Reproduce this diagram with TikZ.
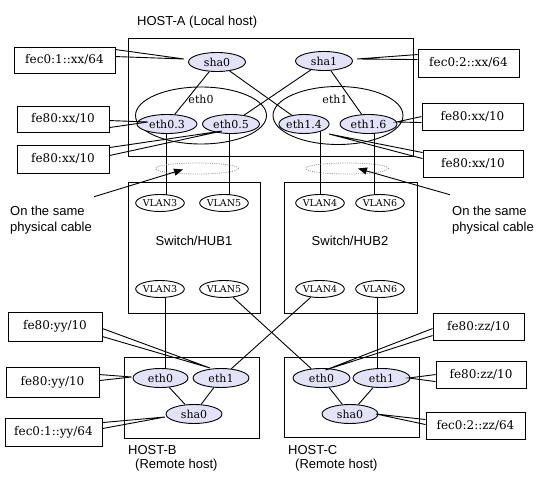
\documentclass[tikz,border=0pt]{standalone}
\usepackage{fontspec}
\newfontfamily\serf{DejaVu Serif}
\newfontfamily\sanf{Liberation Sans}
\usetikzlibrary{shapes.geometric,arrows.meta,calc}
\definecolor{lav}{RGB}{226,226,248}
\definecolor{dotgray}{RGB}{150,150,170}
\pgfdeclarelayer{bg}
\pgfsetlayers{bg,main}
\begin{document}
\begin{tikzpicture}[x=1pt,y=-1pt,
  wire/.style={draw,black,line width=0.9pt},
  iface/.style={ellipse,draw,line width=0.9pt,fill=lav,inner sep=0pt,minimum height=19pt,minimum width=57pt,font=\serf\fontsize{11}{13}\selectfont},
  vlan/.style={ellipse,draw,line width=0.9pt,fill=white,inner sep=0pt,minimum height=17pt,minimum width=46pt,font=\serf\fontsize{9.5}{11}\selectfont},
  grp/.style={ellipse,draw,line width=0.9pt,inner sep=0pt},
  frame/.style={draw,line width=0.9pt,inner sep=0pt},
  addr/.style={draw,line width=0.9pt,fill=white,inner sep=0pt,font=\serf\fontsize{12}{14}\selectfont},
  captxt/.style={font=\sanf\fontsize{13}{16}\selectfont,inner sep=0pt,align=left},
  ghost/.style={ellipse,draw=dotgray,line width=0.8pt,dash pattern=on 1pt off 1.2pt,inner sep=0pt,minimum width=83pt,minimum height=11pt},
  pointer/.style={wire,-{Triangle[length=9pt,width=7pt]}}
]
\useasboundingbox (0,0) rectangle (547,486);

% frames
\node[frame,minimum width=285pt,minimum height=118pt] (hosta) at (270.5,97) {};
\node[frame,minimum width=132pt,minimum height=131pt] (sw1) at (194,247.5) {};
\node[frame,minimum width=133pt,minimum height=131pt] (sw2) at (350.5,247.5) {};
\node[frame,minimum width=135pt,minimum height=81pt] (hostb) at (191.5,397.5) {};
\node[frame,minimum width=135pt,minimum height=80pt] (hostc) at (351.5,397) {};

% frame labels
\node[captxt,anchor=west] (hostalbl) at (137,22) {HOST-A (Local host)};
\node[captxt] (sw1lbl) at (194,241) {Switch/HUB1};
\node[captxt] (sw2lbl) at (350,241) {Switch/HUB2};
\node[captxt,anchor=west] (hostblbl) at (128,450) {HOST-B};
\node[captxt,anchor=west] (hostbsub) at (135,465) {(Remote host)};
\node[captxt,anchor=west] (hostclbl) at (288,450) {HOST-C};
\node[captxt,anchor=west] (hostcsub) at (295,465) {(Remote host)};

% HOST-A groups
\node[grp,minimum width=131pt,minimum height=57pt] (eth0grp) at (201,115.5) {};
\node[grp,minimum width=130pt,minimum height=58pt] (eth1grp) at (338,115.5) {};
\node[inner sep=0pt,font=\serf\fontsize{11}{13}\selectfont] (eth0lbl) at (201,99) {eth0};
\node[inner sep=0pt,font=\serf\fontsize{11}{13}\selectfont] (eth1lbl) at (335,99) {eth1};

% HOST-A interfaces
\node[iface] (sha0a) at (217,62) {sha0};
\node[iface] (sha1) at (324,61) {sha1};
\node[iface,minimum width=60pt] (eth03) at (167,124) {eth0.3};
\node[iface] (eth05) at (231,124) {eth0.5};
\node[iface,minimum width=50pt] (eth14) at (304,124) {eth1.4};
\node[iface] (eth16) at (368.5,124) {eth1.6};

% cables
\node[ghost] (g1) at (197,168.5) {};
\node[ghost] (g2) at (347,168.5) {};

% switches
\node[vlan,minimum width=40pt] (vlan3a) at (160,203) {VLAN3};
\node[vlan] (vlan5a) at (224,203) {VLAN5};
\node[vlan] (vlan4a) at (320,203) {VLAN4};
\node[vlan] (vlan6a) at (380,203) {VLAN6};
\node[vlan,minimum width=40pt] (vlan3b) at (160,289) {VLAN3};
\node[vlan] (vlan5b) at (224,289) {VLAN5};
\node[vlan] (vlan4b) at (320,289) {VLAN4};
\node[vlan] (vlan6b) at (380,289) {VLAN6};

% HOST-B / HOST-C
\node[iface,minimum width=55pt] (beth0) at (160.5,378) {eth0};
\node[iface,minimum width=56pt] (beth1) at (221,378) {eth1};
\node[iface,minimum width=56pt] (bsha0) at (194,414) {sha0};
\node[iface] (ceth0) at (321.5,378) {eth0};
\node[iface] (ceth1) at (381.5,378) {eth1};
\node[iface,minimum width=56pt] (csha0) at (350,414) {sha0};

% address boxes
\node[addr,minimum width=101pt,minimum height=26pt] (b1) at (64.5,60) {fec0:1::xx/64};
\node[addr,minimum width=92pt,minimum height=26pt] (b2) at (63,119) {fe80:xx/10};
\node[addr,minimum width=92pt,minimum height=28pt] (b3) at (63,159) {fe80:xx/10};
\node[addr,minimum width=101pt,minimum height=28pt] (b4) at (468.5,63) {fec0:2::xx/64};
\node[addr,minimum width=101pt,minimum height=27pt] (b5) at (472.5,116.5) {fe80:xx/10};
\node[addr,minimum width=100pt,minimum height=27pt] (b6) at (473,163.5) {fe80:xx/10};
\node[addr,minimum width=94pt,minimum height=29pt] (b7) at (55,326.5) {fe80:yy/10};
\node[addr,minimum width=93pt,minimum height=30pt] (b8) at (52.5,382) {fe80:yy/10};
\node[addr,minimum width=97pt,minimum height=28pt] (b9) at (53.5,432) {fec0:1::yy/64};
\node[addr,minimum width=91pt,minimum height=27pt] (b10) at (478.5,326.5) {fe80:zz/10};
\node[addr,minimum width=90pt,minimum height=27pt] (b11) at (481,374.5) {fe80:zz/10};
\node[addr,minimum width=99pt,minimum height=27pt] (b12) at (475.5,425.5) {fec0:2::zz/64};

% captions
\node[captxt,anchor=west] (cap1) at (10,220) {On the same\\physical cable};
\node[captxt,anchor=west] (cap2) at (452,220) {On the same\\physical cable};

% helper x positions for vertical links
\coordinate (x03) at (166,0);
\coordinate (x05) at (229,0);
\coordinate (x14) at (320,0);
\coordinate (x16) at (374,0);
\coordinate (xb3) at (165,0);
\coordinate (xc6) at (377,0);

\begin{pgfonlayer}{bg}
  \draw[wire] (eth03 -| x03) -- (vlan3a -| x03);
  \draw[wire] (eth05 -| x05) -- (vlan5a -| x05);
  \draw[wire] (eth14 -| x14) -- (vlan4a -| x14);
  \draw[wire] (eth16 -| x16) -- (vlan6a -| x16);
  \draw[wire] (vlan3b -| xb3) -- (beth0 -| xb3);
  \draw[wire] (vlan6b -| xc6) -- (ceth1 -| xc6);
\end{pgfonlayer}

% diagonal links
\draw[wire] (vlan5b) -- (ceth0);
\draw[wire] (vlan4b) -- (beth1);
\draw[wire] (sha0a) -- (eth03);
\draw[wire] (sha0a) -- (eth14);
\draw[wire] (sha1) -- (eth05);
\draw[wire] (sha1) -- (eth16);
\draw[wire] (beth0) -- (bsha0);
\draw[wire] (beth1) -- (bsha0);
\draw[wire] (ceth0) -- (csha0);
\draw[wire] (ceth1) -- (csha0);

% callout wedges
\draw[wire] ($(b1.north east)+(0,3)$) -- ($(sha0a)+(-33,-3)$) -- ($(b1.north east)+(0,10)$);
\draw[wire] ($(b2.north east)+(0,15)$) -- ($(eth03)+(-19,-2)$) -- ($(b2.north east)+(0,22)$);
\draw[wire] ($(b3.north east)+(0,3)$) -- ($(eth05)+(-9,7)$) -- ($(b3.north east)+(0,11)$);
\draw[wire] ($(b4.north west)+(0,6)$) -- ($(sha1)+(33,-2)$) -- ($(b4.north west)+(0,11)$);
\draw[wire] ($(b5.north west)+(0,14)$) -- ($(eth16)+(28,-2)$) -- ($(b5.north west)+(0,20)$);
\draw[wire] ($(b6.north west)+(0,3)$) -- ($(eth14)+(25,10)$) -- ($(b6.north west)+(0,9)$);
\draw[wire] ($(b7.north east)+(0,17)$) -- ($(beth1)+(-11,-10)$) -- ($(b7.north east)+(0,25)$);
\draw[wire] ($(b8.north east)+(0,8)$) -- ($(beth0)+(-29,-1)$) -- ($(b8.north east)+(0,14)$);
\draw[wire] ($(b9.north east)+(0,5)$) -- ($(bsha0)+(-29,3)$) -- ($(b9.north east)+(0,11)$);
\draw[wire] ($(b10.north west)+(0,16)$) -- ($(ceth0)+(4,-8)$) -- ($(b10.north west)+(0,23)$);
\draw[wire] ($(b11.north west)+(0,14)$) -- ($(ceth1)+(27,0)$) -- ($(b11.north west)+(0,21)$);
\draw[wire] ($(b12.north west)+(0,8)$) -- ($(csha0)+(26,0)$) -- ($(b12.north west)+(0,13)$);

% pointers to the cables
\draw[pointer] ($(cap1.north east)+(2,-9)$) -- ($(g1)+(-14,1)$);
\draw[pointer] ($(cap2.north west)+(-2,-11)$) -- ($(g2)+(11,0)$);
\end{tikzpicture}
\end{document}
